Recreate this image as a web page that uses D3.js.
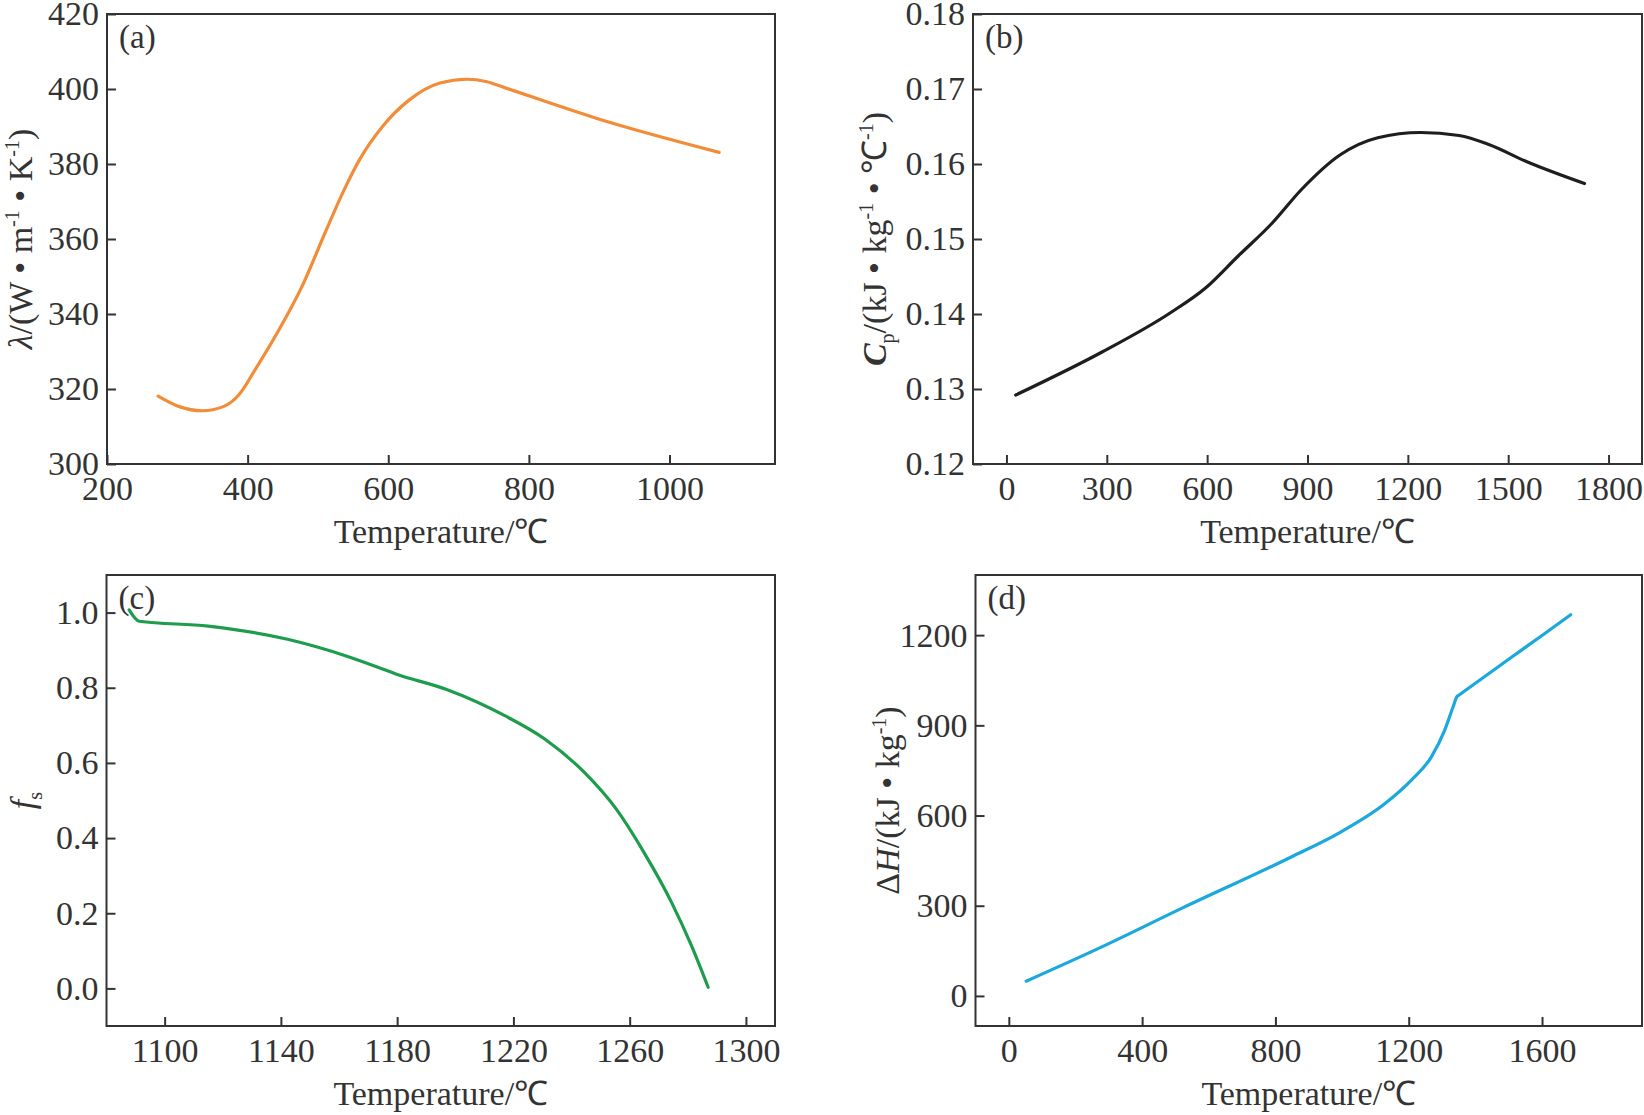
<!DOCTYPE html>
<html>
<head>
<meta charset="utf-8">
<script src="https://cdn.jsdelivr.net/npm/d3@7.9.0/dist/d3.min.js"></script>
<style>
  body { margin: 0; background: #fff; }
  svg { display: block; font-family: "Liberation Serif", "Times New Roman", serif; }
  .tick text { font-family: "Liberation Serif", "Times New Roman", serif; font-size: 34px; fill: #333; }
  .tick line { stroke: #333; stroke-width: 2; }
</style>
</head>
<body>
<svg id="chart" width="1644" height="1115"></svg>
<script>
// (a) thermal conductivity
const lambdaT = [272.7, 302.7, 335.4, 365.5, 387.3, 411.8, 444.6, 477.2, 510, 537.2, 559, 591.8, 630, 673.6, 711.8, 739, 766.3, 902.6, 1070.6];
const lambdaV = [318.1, 315.3, 314.2, 315.3, 318.4, 325.5, 335.8, 347.3, 361.6, 373.1, 381.1, 390, 397.1, 401.6, 402.6, 402.0, 400.3, 391.8, 383.1];

// (b) specific heat
const cpT = [27.8, 284.5, 488, 596, 692, 794, 882, 997, 1110, 1238, 1353, 1442, 1556, 1728];
const cpV = [0.1292, 0.1349, 0.1401, 0.1435, 0.1477, 0.1521, 0.1566, 0.1612, 0.1635, 0.1642, 0.1638, 0.1626, 0.1603, 0.1574];

// (c) solid fraction
const fsT = [1087.8, 1091.2, 1115, 1142.3, 1162.7, 1173.6, 1179.8, 1196.8, 1217.2, 1230.9, 1244.5, 1255.4, 1264.9, 1274.4, 1281.3, 1287];
const fsV = [1.007, 0.977, 0.964, 0.929, 0.884, 0.854, 0.836, 0.796, 0.725, 0.663, 0.574, 0.477, 0.362, 0.229, 0.113, 0.003];

// (d) enthalpy
const dhT = [52, 271, 520, 849, 989, 1129, 1208, 1268, 1308, 1333, 1345, 1350, 1400, 1500, 1600, 1686];
const dhV = [49, 159, 292, 463, 541, 640, 718, 795, 884, 961, 996, 1000, 1040, 1120, 1199, 1268];

// tick values
const ticksAx = [200, 400, 600, 800, 1000];
const ticksAy = [300, 320, 340, 360, 380, 400, 420];
const ticksBx = [0, 300, 600, 900, 1200, 1500, 1800];
const ticksBy = [0.12, 0.13, 0.14, 0.15, 0.16, 0.17, 0.18];
const ticksCx = [1100, 1140, 1180, 1220, 1260, 1300];
const ticksCy = [0.0, 0.2, 0.4, 0.6, 0.8, 1.0];
const ticksDx = [0, 400, 800, 1200, 1600];
const ticksDy = [0, 300, 600, 900, 1200];

const svg = d3.select('#chart');

function drawPanel(p) {
  const g = svg.append('g');
  const x = d3.scaleLinear().domain(p.xDomain).range([p.left, p.right]);
  const y = d3.scaleLinear().domain(p.yDomain).range([p.bottom, p.top]);

  // axes, ticks pointing inward
  g.append('g')
    .attr('transform', `translate(0,${p.bottom})`)
    .call(d3.axisBottom(x).tickValues(p.xTicks).tickSizeInner(-9).tickSizeOuter(0).tickPadding(12).tickFormat(d3.format('d')))
    .call(a => a.select('.domain').remove());

  g.append('g')
    .attr('transform', `translate(${p.left},0)`)
    .call(d3.axisLeft(y).tickValues(p.yTicks).tickSizeInner(-9).tickSizeOuter(0).tickPadding(8).tickFormat(d3.format(p.yFormat)))
    .call(a => a.select('.domain').remove());

  // frame
  g.append('rect')
    .attr('x', p.left).attr('y', p.top)
    .attr('width', p.right - p.left).attr('height', p.bottom - p.top)
    .attr('fill', 'none').attr('stroke', '#333').attr('stroke-width', 2);

  const pts = p.xs.map((t, i) => [t, p.ys[i]]);
  const line = d3.line().x(d => x(d[0])).y(d => y(d[1])).curve(d3.curveMonotoneX);
  g.append('path')
    .attr('d', line(pts))
    .attr('fill', 'none')
    .attr('stroke', p.color)
    .attr('stroke-width', 3.2)
    .attr('stroke-linejoin', 'round')
    .attr('stroke-linecap', 'round');

  // panel letter
  g.append('text')
    .attr('x', p.left + 12).attr('y', p.top + 34)
    .attr('font-size', 33).attr('fill', '#333')
    .text(p.tag);

  // x title
  g.append('text')
    .attr('x', (p.left + p.right) / 2).attr('y', p.bottom + 79)
    .attr('text-anchor', 'middle').attr('font-size', 34).attr('fill', '#333')
    .text('Temperature/℃');

  // y title (rotated, built from pieces)
  const yt = g.append('text')
    .attr('transform', `translate(${p.yTitleX},${(p.top + p.bottom) / 2}) rotate(-90)`)
    .attr('text-anchor', 'middle').attr('font-size', 34).attr('fill', '#333');
  p.yTitle.forEach(part => {
    const s = yt.append('tspan').text(part.t);
    if (part.i) s.attr('font-style', 'italic');
    if (part.b) s.attr('font-weight', 'bold');
    if (part.sup) s.attr('font-size', 20).attr('dy', -13);
    if (part.sub) s.attr('font-size', 20).attr('dy', 8);
    if (part.back) s.attr('dy', part.back);
  });
}

drawPanel({
  left: 107, right: 775, top: 14, bottom: 464,
  xDomain: [200, 1150], yDomain: [300, 420],
  xTicks: ticksAx, yTicks: ticksAy, yFormat: 'd',
  xs: lambdaT, ys: lambdaV, color: '#f28c38', tag: '(a)', yTitleX: 32,
  yTitle: [{t: 'λ', i: true}, {t: '/(W • m'}, {t: '-1', sup: true}, {t: ' • K', back: 13},
           {t: '-1', sup: true}, {t: ')', back: 13}]
});

drawPanel({
  left: 973, right: 1642, top: 14, bottom: 464,
  xDomain: [-100, 1900], yDomain: [0.12, 0.18],
  xTicks: ticksBx, yTicks: ticksBy, yFormat: '.2f',
  xs: cpT, ys: cpV, color: '#1e1e1e', tag: '(b)', yTitleX: 886,
  yTitle: [{t: 'C', i: true, b: true}, {t: 'p', sub: true}, {t: '/(kJ • kg', back: -8},
           {t: '-1', sup: true}, {t: ' • ℃', back: 13}, {t: '-1', sup: true}, {t: ')', back: 13}]
});

drawPanel({
  left: 106.5, right: 775, top: 575, bottom: 1026,
  xDomain: [1080, 1310], yDomain: [-0.1, 1.1],
  xTicks: ticksCx, yTicks: ticksCy, yFormat: '.1f',
  xs: fsT, ys: fsV, color: '#1e9c4e', tag: '(c)', yTitleX: 34,
  yTitle: [{t: 'f', i: true}, {t: 's', sub: true}]
});

drawPanel({
  left: 975.5, right: 1642, top: 575, bottom: 1026,
  xDomain: [-100, 1900], yDomain: [-100, 1400],
  xTicks: ticksDx, yTicks: ticksDy, yFormat: 'd',
  xs: dhT, ys: dhV, color: '#1ba8dc', tag: '(d)', yTitleX: 899,
  yTitle: [{t: 'Δ'}, {t: 'H', i: true}, {t: '/(kJ • kg'}, {t: '-1', sup: true}, {t: ')', back: 13}]
});
</script>
</body>
</html>
